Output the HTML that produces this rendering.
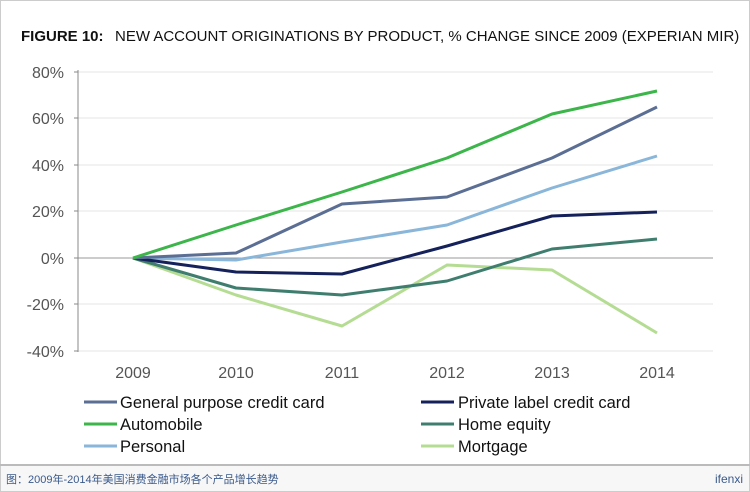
<!DOCTYPE html><html><head><style>body{margin:0;background:#fff}svg{display:block}text{font-family:"Liberation Sans",sans-serif}</style></head><body>
<svg width="750" height="492" viewBox="0 0 750 492">
<rect x="0.5" y="0.5" width="749" height="491" fill="#fff" stroke="#ccc"/>
<text x="21" y="41" font-size="15" fill="#111"><tspan font-weight="bold">FIGURE 10:</tspan><tspan x="115">NEW ACCOUNT ORIGINATIONS BY PRODUCT, % CHANGE SINCE 2009 (EXPERIAN MIR)</tspan></text>
<g stroke="#e6e6e6" stroke-width="1"><line x1="78" y1="72" x2="713" y2="72"/><line x1="78" y1="118" x2="713" y2="118"/><line x1="78" y1="165" x2="713" y2="165"/><line x1="78" y1="211" x2="713" y2="211"/><line x1="78" y1="304" x2="713" y2="304"/><line x1="78" y1="351" x2="713" y2="351"/></g>
<line x1="78" y1="258" x2="713" y2="258" stroke="#999"/>
<line x1="78" y1="70" x2="78" y2="352" stroke="#888"/>
<g stroke="#888"><line x1="74" y1="72" x2="78" y2="72"/><line x1="74" y1="118" x2="78" y2="118"/><line x1="74" y1="165" x2="78" y2="165"/><line x1="74" y1="211" x2="78" y2="211"/><line x1="74" y1="258" x2="78" y2="258"/><line x1="74" y1="304" x2="78" y2="304"/><line x1="74" y1="351" x2="78" y2="351"/></g>
<g font-size="16" fill="#555" text-anchor="end"><text x="64" y="78">80%</text><text x="64" y="124">60%</text><text x="64" y="171">40%</text><text x="64" y="217">20%</text><text x="64" y="264">0%</text><text x="64" y="310">-20%</text><text x="64" y="357">-40%</text></g>
<g font-size="16" fill="#555" text-anchor="middle"><text x="133" y="378">2009</text><text x="236" y="378">2010</text><text x="342" y="378">2011</text><text x="447" y="378">2012</text><text x="552" y="378">2013</text><text x="657" y="378">2014</text></g>
<g fill="none" stroke-width="3" stroke-linejoin="round">
<polyline stroke="#b5dc93" points="133,258 236,295 342,326 447,265 552,270 657,333"/>
<polyline stroke="#3f7e6f" points="133,258 236,288 342,295 447,281 552,249 657,239"/>
<polyline stroke="#8ab6d9" points="133,258 236,260 342,242 447,225 552,188 657,156"/>
<polyline stroke="#14215a" points="133,258 236,272 342,274 447,246 552,216 657,212"/>
<polyline stroke="#5b6e93" points="133,258 236,253 342,204 447,197 552,158 657,107"/>
<polyline stroke="#3cb54a" points="133,258 236,225 342,192 447,158 552,114 657,91"/>
</g>
<g stroke-width="3"><line x1="84" y1="402" x2="117" y2="402" stroke="#5b6e93"/><line x1="84" y1="424" x2="117" y2="424" stroke="#3cb54a"/><line x1="84" y1="446" x2="117" y2="446" stroke="#8ab6d9"/>
<line x1="421" y1="402" x2="454" y2="402" stroke="#14215a"/><line x1="421" y1="424" x2="454" y2="424" stroke="#3f7e6f"/><line x1="421" y1="446" x2="454" y2="446" stroke="#b5dc93"/></g>
<g font-size="16.5" fill="#111"><text x="120" y="408">General purpose credit card</text><text x="120" y="430">Automobile</text><text x="120" y="452">Personal</text><text x="458" y="408">Private label credit card</text><text x="458" y="430">Home equity</text><text x="458" y="452">Mortgage</text></g>
<rect x="1" y="465" width="748" height="26" fill="#f7f7f7"/>
<line x1="0" y1="465" x2="750" y2="465" stroke="#bbb" stroke-width="2"/>
<text x="6" y="483" font-size="11" fill="#3a5a8c" style="font-family:'Liberation Sans','Noto Sans CJK SC',sans-serif">图：2009年-2014年美国消费金融市场各个产品增长趋势</text>
<text x="743" y="483" font-size="12" fill="#3a5a8c" text-anchor="end">ifenxi</text>
</svg></body></html>
